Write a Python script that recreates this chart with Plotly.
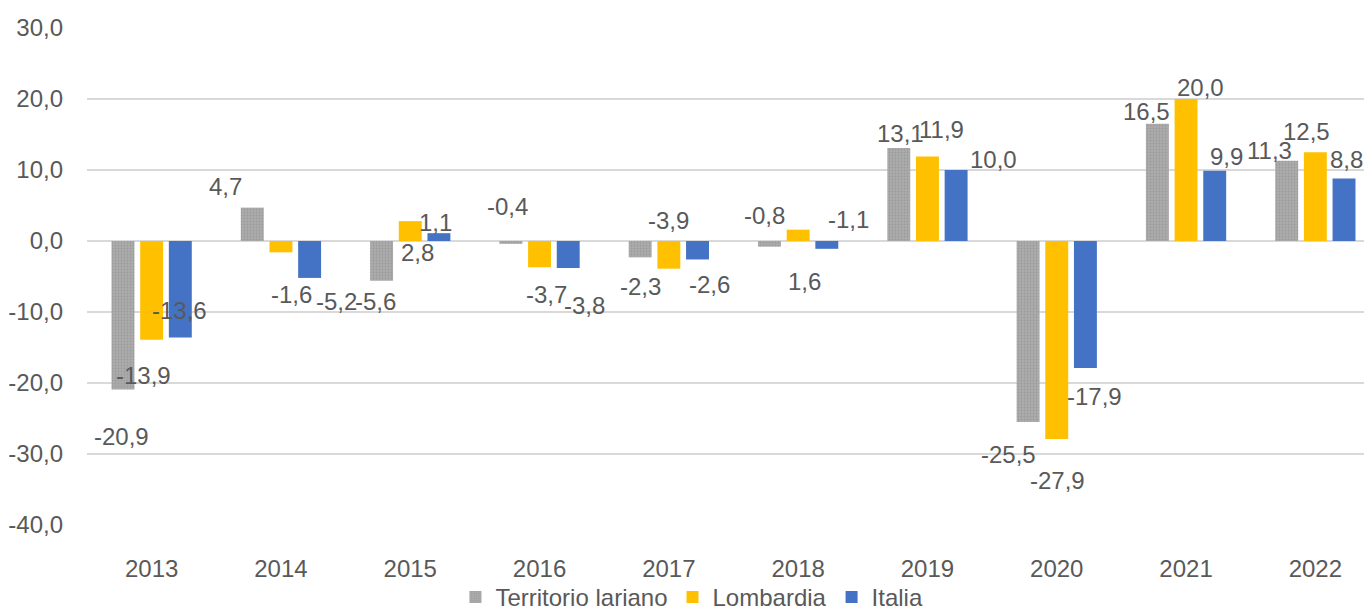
import plotly.graph_objects as go

years = ["2013", "2014", "2015", "2016", "2017", "2018", "2019", "2020", "2021", "2022"]
series_names = ["Territorio lariano", "Lombardia", "Italia"]
lariano = [-20.9, 4.7, -5.6, -0.4, -2.3, -0.8, 13.1, -25.5, 16.5, 11.3]
lombardia = [-13.9, -1.6, 2.8, -3.7, -3.9, 1.6, 11.9, -27.9, 20.0, 12.5]
italia = [-13.6, -5.2, 1.1, -3.8, -2.6, -1.1, 10.0, -17.9, 9.9, 8.8]
y_ticks = [30, 20, 10, 0, -10, -20, -30, -40]
y_ticktext = ["30,0", "20,0", "10,0", "0,0", "-10,0", "-20,0", "-30,0", "-40,0"]

# label placement offsets (pixels) mimicking the original layout
label_dx = [
    [-1, -27, -6, -3, 0, -5, 2, -20, -11, -17],
    [-8, 11, 7, 7, 0, 6, 14, 1, 14, -9],
    [-1, 27, -3, 16, 12, 22, 37, 9, 12, 2],
]
label_dy = [
    [-45, 23, -19, 39, -27, 33, 16, -30, 14, 12],
    [-34, -40, -29, -25, 50, -50, 29, -39, 14, 23],
    [29, -22, 13, -36, -23, 31, 13, -26, 16, 21],
]

colors = ["#A5A5A5", "#FFC000", "#4472C4"]
FONT = "Liberation Sans, Arial, sans-serif"
TXT = "#595959"
FS = 24
BARGAP = 0.335
GROUPGAP = 0.2

fig = go.Figure()
data = [lariano, lombardia, italia]
for j, (name, vals, col) in enumerate(zip(series_names, data, colors)):
    marker = dict(color=col, line=dict(width=0))
    if j == 0:
        marker["pattern"] = dict(shape=".", fgcolor="#8C8C8C", bgcolor="#ABABAB", size=3, solidity=0.3)
    fig.add_trace(go.Bar(x=years, y=vals, name=name, marker=marker, hoverinfo="skip"))

slot = (1 - BARGAP) / 3
annotations = []
for j, vals in enumerate(data):
    for i, v in enumerate(vals):
        annotations.append(dict(
            x=i + (j - 1) * slot, y=v, xref="x", yref="y",
            text=f"{v:.1f}".replace(".", ","),
            showarrow=False, xanchor="center", yanchor="middle",
            xshift=label_dx[j][i], yshift=label_dy[j][i] - 2,
            font=dict(family=FONT, size=FS, color=TXT),
        ))

fig.update_layout(
    width=1372, height=612,
    margin=dict(l=79, r=0, t=20, b=95, autoexpand=False),
    paper_bgcolor="white", plot_bgcolor="white",
    barmode="group", bargap=BARGAP, bargroupgap=GROUPGAP,
    font=dict(family=FONT, size=FS, color=TXT),
    showlegend=True,
    legend=dict(orientation="h", xref="container", yref="container",
                x=0.4985, xanchor="center", y=-0.006, yanchor="bottom",
                font=dict(family=FONT, size=FS, color=TXT),
                itemwidth=30, tracegroupgap=0, bgcolor="rgba(0,0,0,0)"),
    annotations=annotations,
)
fig.update_xaxes(type="category", range=[-0.5, 9.5], showgrid=False, showline=False,
                 ticks="", ticklabelstandoff=27, automargin=False,
                 tickfont=dict(family=FONT, size=FS, color=TXT))
fig.update_yaxes(range=[-40, 30], tickvals=y_ticks, ticktext=y_ticktext,
                 showgrid=True, gridcolor="#D9D9D9", gridwidth=2,
                 zeroline=False, showline=False, ticks="", ticklabelstandoff=23,
                 automargin=False,
                 tickfont=dict(family=FONT, size=FS, color=TXT))

fig.write_html("out.html")
